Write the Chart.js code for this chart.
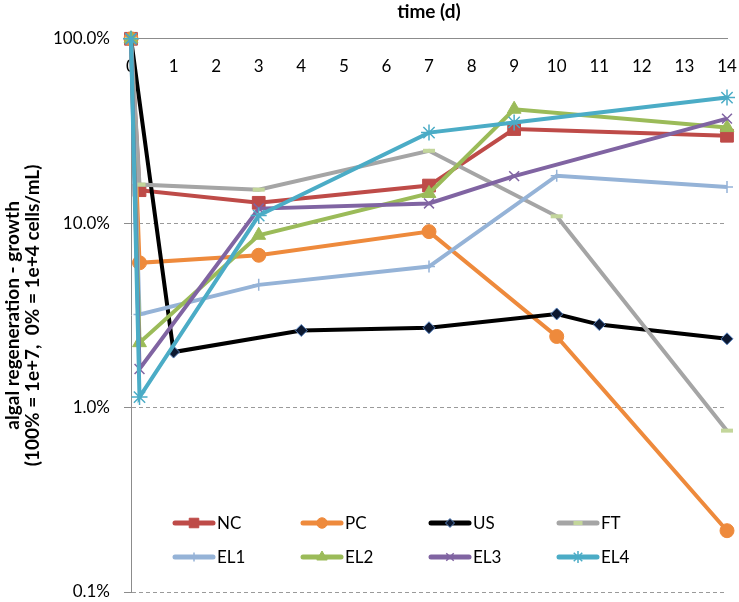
<!DOCTYPE html>
<html>
<head>
<meta charset="utf-8">
<script src="https://cdn.jsdelivr.net/npm/chart.js@4.4.1/dist/chart.umd.min.js"></script>
<style>
  html, body { margin: 0; padding: 0; background: #fff; }
  #wrap { width: 739px; height: 602px; }
</style>
</head>
<body>
<div id="wrap"><canvas id="canvas" width="739" height="602"></canvas></div>
<script>
// Data: time in days, value in % (log scale)
const seriesNames = ["NC", "PC", "US", "FT", "EL1", "EL2", "EL3", "EL4"];

const ncDays = [0, 0.2, 3, 7, 9, 14];
const ncValues = [100, 15.1, 12.9, 16.0, 32.4, 29.8];
const pcDays = [0, 0.2, 3, 7, 10, 14];
const pcValues = [100, 6.1, 6.7, 9.0, 2.43, 0.215];
const usDays = [0, 1, 4, 7, 10, 11, 14];
const usValues = [100, 2.0, 2.62, 2.71, 3.22, 2.82, 2.36];
const ftDays = [0, 0.2, 3, 7, 10, 14];
const ftValues = [100, 16.2, 15.2, 24.7, 10.9, 0.75];
const el1Days = [0, 0.2, 3, 7, 10, 14];
const el1Values = [100, 3.2, 4.63, 5.82, 18.1, 15.7];
const el2Days = [0, 0.2, 3, 7, 9, 14];
const el2Values = [100, 2.25, 8.6, 14.5, 41.5, 33.0];
const el3Days = [0, 0.2, 3, 7, 9, 14];
const el3Values = [100, 1.62, 12.0, 12.8, 18.0, 36.9];
const el4Days = [0, 0.2, 3, 7, 9, 14];
const el4Values = [100, 1.14, 11.0, 31.0, 35.2, 48.0];

const yTicks = [0.1, 1, 10, 100];

const FONT = "Lato";

// pair up x and y arrays
function pts(days, values) {
    return days.map((d, i) => ({ x: d, y: values[i] }));
}

// one dataset per series, marker styles like the excel original
function makeSet(i, days, values, color, style, radius, fill, border, bw) {
    return {
        label: seriesNames[i],
        data: pts(days, values),
        borderColor: color,
        backgroundColor: color,
        borderWidth: 4,
        pointStyle: style,
        pointRadius: radius,
        pointBackgroundColor: fill,
        pointBorderColor: border,
        pointBorderWidth: bw,
        tension: 0,
        clip: false,
        order: 8 - i
    };
}

const datasets = [
    makeSet(0, ncDays, ncValues, "#BE4B48", "rect", 9, "#BE4B48", "#BE4B48", 1),
    makeSet(1, pcDays, pcValues, "#EE8A3C", "circle", 7, "#EE8A3C", "#EE8A3C", 1),
    makeSet(2, usDays, usValues, "#000000", "rectRot", 6, "#0c1830", "#5b85c0", 1),
    makeSet(3, ftDays, ftValues, "#A5A5A5", "line", 6, "#C3D69B", "#C3D69B", 4),
    makeSet(4, el1Days, el1Values, "#95B3D7", "cross", 6, "#95B3D7", "#95B3D7", 1.5),
    makeSet(5, el2Days, el2Values, "#9BBB59", "triangle", 8, "#9BBB59", "#9BBB59", 1),
    makeSet(6, el3Days, el3Values, "#8064A2", "crossRot", 7, "#8064A2", "#8064A2", 1.5),
    makeSet(7, el4Days, el4Values, "#4BACC6", "star", 8, "#4BACC6", "#4BACC6", 1.5)
];

// legend sits inside the plot, 4 columns x 2 rows, line with marker in the middle
const insideLegend = {
    id: "insideLegend",
    afterDraw(chart) {
        const ctx = chart.ctx;
        const area = chart.chartArea;
        chart.data.datasets.forEach((ds, i) => {
            const x = area.left + 44 + (i % 4) * 128;
            const y = area.bottom - 69 + Math.floor(i / 4) * 34;
            ctx.save();
            ctx.strokeStyle = ds.borderColor;
            ctx.lineWidth = 5;
            ctx.lineCap = "round";
            ctx.beginPath();
            ctx.moveTo(x, y);
            ctx.lineTo(x + 38, y);
            ctx.stroke();
            ctx.fillStyle = ds.pointBackgroundColor;
            ctx.strokeStyle = ds.pointBorderColor;
            ctx.lineWidth = ds.pointBorderWidth;
            ctx.lineCap = "butt";
            Chart.helpers.drawPoint(ctx, {
                pointStyle: ds.pointStyle,
                radius: ds.pointRadius * 0.75,
                borderWidth: ds.pointBorderWidth,
                rotation: 0
            }, x + 19, y);
            ctx.fillStyle = "#000";
            ctx.font = "17px " + FONT;
            ctx.textBaseline = "middle";
            ctx.textAlign = "left";
            ctx.fillText(ds.label, x + 42, y + 1);
            ctx.restore();
        });
    }
};

const chart = new Chart(document.getElementById("canvas").getContext("2d"), {
    type: "line",
    data: { datasets: datasets },
    plugins: [insideLegend],
    options: {
        responsive: false,
        animation: false,
        layout: { padding: { left: 0, right: 12, top: 0, bottom: 2 } },
        plugins: {
            legend: { display: false },
            tooltip: { enabled: false },
            title: {
                display: true,
                text: "time (d)",
                fullSize: false,
                color: "#000",
                font: { family: FONT, size: 19, weight: "bold", lineHeight: 1.2 },
                padding: { top: 0, bottom: 16 }
            }
        },
        scales: {
            x: {
                type: "linear",
                // axis sits on the 100% line, labels hang below it inside the plot
                position: { y: 100 },
                min: 0,
                max: 14,
                afterFit: s => {
                    s.height = 0;
                    s.paddingLeft = 0;
                    s.paddingRight = 0;
                },
                ticks: {
                    stepSize: 1,
                    padding: 18,
                    color: "#000",
                    font: { family: FONT, size: 17 }
                },
                grid: { drawOnChartArea: false, drawTicks: false },
                border: { color: "#8c8c8c", width: 1 }
            },
            y: {
                type: "logarithmic",
                min: 0.1,
                max: 100,
                afterFit: s => {
                    s.width = 131;
                    s.paddingTop = 0;
                    s.paddingBottom = 0;
                },
                afterBuildTicks: s => { s.ticks = yTicks.map(v => ({ value: v })); },
                ticks: {
                    color: "#000",
                    padding: 14,
                    // small line height so the bottom label may hang off the canvas edge
                    font: { family: FONT, size: 17, lineHeight: 0.8 },
                    callback: v => v.toFixed(1) + "%"
                },
                grid: {
                    color: "#9a9a9a",
                    lineWidth: 1,
                    tickLength: 7,
                    tickColor: "#8c8c8c",
                    tickBorderDash: []
                },
                border: { color: "#8c8c8c", width: 1, dash: [4, 3] },
                title: {
                    display: true,
                    text: ["algal regeneration - growth", "(100% = 1e+7,  0% = 1e+4 cells/mL)"],
                    color: "#000",
                    font: { family: FONT, size: 19, weight: "bold", lineHeight: 1.1 },
                    padding: { top: 2, bottom: 0 }
                }
            }
        }
    }
});
</script>
</body>
</html>
